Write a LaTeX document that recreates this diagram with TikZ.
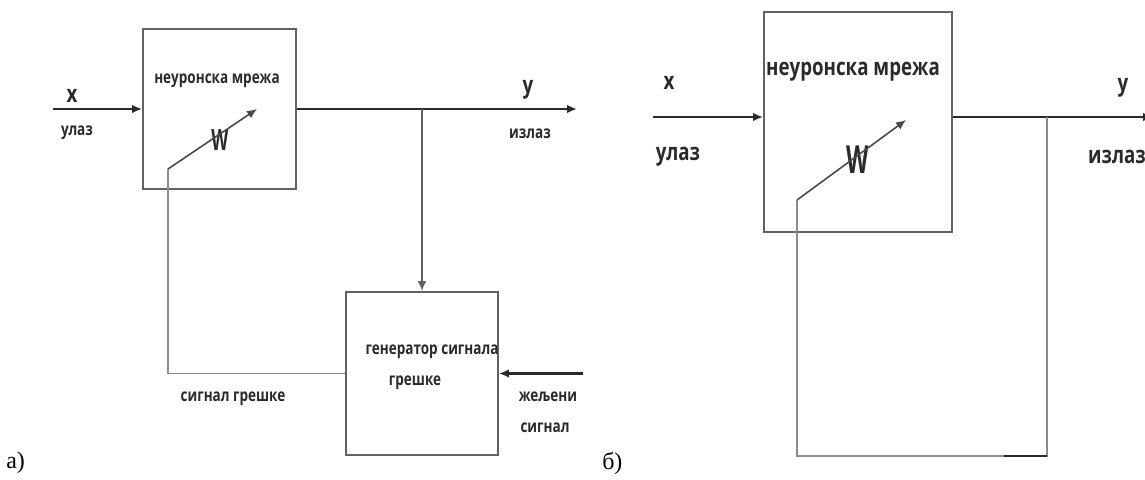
\documentclass[tikz,border=0pt]{standalone}
\usepackage{fontspec}
\setmainfont{Liberation Serif}
\newfontfamily\narrowfont[FakeStretch=0.78]{Open Sans}
\newfontfamily\wfont[FakeStretch=0.6]{Open Sans}
\usetikzlibrary{arrows.meta}
\definecolor{lineDark}{HTML}{2A2A2A}
\definecolor{boxGrey}{HTML}{626262}
\definecolor{fbGrey}{HTML}{8C8C8C}
\definecolor{textGrey}{HTML}{2A2A2A}

\begin{document}
\begin{tikzpicture}[x=0.75pt,y=-0.75pt,every node/.style={inner sep=0pt,text=textGrey},
  block/.style={rectangle,draw=boxGrey,line width=1.4pt},
  lblA/.style={font=\narrowfont\bfseries\fontsize{13}{15}\selectfont},
  lblB/.style={font=\narrowfont\bfseries\fontsize{18}{20}\selectfont},
  varA/.style={font=\narrowfont\bfseries\fontsize{18}{20}\selectfont},
  wA/.style={font=\wfont\bfseries\fontsize{22}{24}\selectfont},
  wB/.style={font=\wfont\bfseries\fontsize{29}{31}\selectfont},
  mainline/.style={draw=lineDark,line width=1.8pt},
  thinline/.style={draw=boxGrey,line width=1.1pt},
  fbline/.style={draw=fbGrey,line width=1.1pt},
  wline/.style={draw=lineDark!85,line width=1.2pt},
  tip/.style={-{Latex[length=7.5pt,width=6.5pt]}},
  tag/.style={font=\fontsize{18}{20}\selectfont,text=black}]
  \useasboundingbox (0,0) rectangle (1145,479);
  % a) learning with an error generator
  \node[block,minimum width=114.75pt,minimum height=120pt] (nn) at (219.5,109) {};
  \node[lblA] (nnT) at (217,81) {неуронска мрежа};
  \node[wA] (nnW) at (220,140) {W};
  \node[block,minimum width=114pt,minimum height=122.25pt] (gen) at (422,373.5) {};
  \node[lblA] (genT) at (432,352) {генератор сигнала};
  \node[lblA] (genT2) at (415,383) {грешке};
  \coordinate (xin) at (53,109);
  \coordinate (br) at (422,109);
  \coordinate (yout) at (577,109);
  \coordinate (des) at (583,373.5);
  \coordinate (wS) at (168,169);
  \coordinate (wE) at (257,109);
  \node[varA] (xT) at (72,96) {x};
  \node[lblA] (inT) at (77,133) {улаз};
  \node[varA] (yT) at (528,90) {y};
  \node[lblA] (outT) at (530,134) {излаз};
  \node[lblA] (errT) at (233,399) {сигнал грешке};
  \node[lblA] (desT) at (548,397) {жељени};
  \node[lblA] (desT2) at (545,428) {сигнал};
  \draw[mainline,tip] (xin) -- (nn.west);
  \draw[mainline] (nn.east) -- (br);
  \draw[mainline,tip] (br) -- (yout);
  \draw[thinline,tip] (br) -- (gen.north);
  \draw[mainline,tip] (des) -- (gen.east);
  \draw[fbline] (gen.west) -| (wS);
  \draw[wline,tip] (wS) -- (wE);
  \node[tag,anchor=west] (tagA) at (6,463) {a)};
  % b) direct feedback of the output
  \node[block,minimum width=141pt,minimum height=165pt] (nnb) at (858,122) {};
  \node[lblB] (nnbT) at (853,72) {неуронска мрежа};
  \node[wB] (nnbW) at (858,160) {W};
  \coordinate (xinb) at (653,117);
  \coordinate (brb) at (1047,117);
  \coordinate (youtb) at (1153,117);
  \coordinate (cnb) at (1047,456);
  \coordinate (wSb) at (797,200);
  \coordinate (wEb) at (906,120);
  \node[varA] (xbT) at (669,83) {x};
  \node[lblB] (inbT) at (678,157) {улаз};
  \node[varA] (ybT) at (1123,88) {y};
  \node[lblB] (outbT) at (1117,157) {излаз};
  \draw[mainline,tip] (xinb) -- (nnb.west |- xinb);
  \draw[mainline] (nnb.east |- brb) -- (brb);
  \draw[mainline,tip] (brb) -- (youtb);
  \draw[fbline] (brb) -- (cnb) -| (wSb);
  \draw[mainline] ([xshift=-32]cnb) -- (cnb);
  \draw[wline,tip] (wSb) -- (wEb);
  \node[tag,anchor=west] (tagB) at (602,463) {б)};
\end{tikzpicture}
\end{document}
